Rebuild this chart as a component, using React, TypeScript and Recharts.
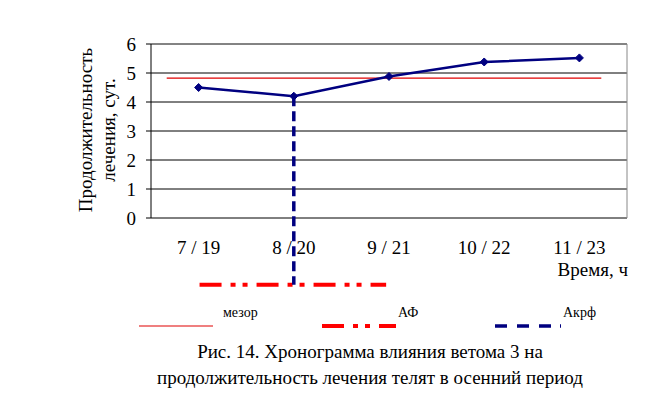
import React from 'react';
import {
  LineChart,
  Line,
  XAxis,
  YAxis,
  CartesianGrid,
  ReferenceLine,
} from 'recharts';

const times = ['7 / 19', '8 / 20', '9 / 21', '10 / 22', '11 / 23'];
const durations = [4.5, 4.2, 4.88, 5.38, 5.52];
const yTicks = [0, 1, 2, 3, 4, 5, 6];
const boundaryTicks = [0, 1, 2, 3, 4, 5];

// mesor level and its span (in category units), acrophase position, AF span
const mesor = 4.82;
const mesorSpan = [0.165, 4.73];
const acroPos = 1.5;
const acroValue = 4.2;
const lowerLevel = -2.3;
const afSpan = [0.51, 2.47];

const data = times.map((t, i) => ({ time: t, pos: i + 0.5, value: durations[i] }));

const FONT = '"Liberation Serif", "Times New Roman", serif';
const NAVY = '#000080';
const RED = '#ff0000';
const AF_DASH = '22 9 5 7 5 9';
const ACRO_DASH = '10 5';

function Diamond(props: any) {
  const { cx, cy } = props;
  if (cx == null || cy == null) return null;
  const r = 4;
  return (
    <polygon
      points={`${cx},${cy - r} ${cx + r},${cy} ${cx},${cy + r} ${cx - r},${cy}`}
      fill={NAVY}
      stroke={NAVY}
    />
  );
}

function LegendLine({ dash, color, width, len = 74 }: { dash?: string; color: string; width: number; len?: number }) {
  return (
    <svg width={len} height={8} style={{ display: 'block' }}>
      <line x1={0} y1={4} x2={len} y2={4} stroke={color} strokeWidth={width} strokeDasharray={dash} />
    </svg>
  );
}

export default function App() {
  return (
    <div
      style={{
        position: 'absolute',
        left: 0,
        top: 0,
        width: 648,
        height: 397,
        background: '#fff',
        fontFamily: FONT,
        color: '#000',
      }}
    >
      <LineChart
        width={648}
        height={397}
        data={data}
        margin={{ top: 44, right: 21, left: 0, bottom: 149 }}
      >
        <CartesianGrid stroke="#000" vertical={false} />
        <XAxis
          xAxisId="num"
          type="number"
          dataKey="pos"
          domain={[0, 5]}
          ticks={boundaryTicks}
          tick={false}
          height={0}
          stroke="#000"
          tickLine={{ stroke: '#000' }}
          tickSize={5}
        />
        <XAxis
          xAxisId="cat"
          dataKey="time"
          scale="band"
          height={30}
          axisLine={false}
          tickLine={false}
          tickSize={0}
          tickMargin={23}
          tick={{ fill: '#000', fontSize: 19, fontFamily: FONT }}
          interval={0}
        />
        <YAxis
          domain={[0, 6]}
          ticks={yTicks}
          width={151}
          stroke="#000"
          tickSize={5}
          tickMargin={10}
          tick={{ fill: '#000', fontSize: 19, fontFamily: FONT }}
          interval={0}
        />
        <ReferenceLine xAxisId="num" y={6} stroke="#888" />
        <ReferenceLine xAxisId="num" x={5} stroke="#888" />
        <ReferenceLine
          xAxisId="num"
          segment={[
            { x: mesorSpan[0], y: mesor },
            { x: mesorSpan[1], y: mesor },
          ]}
          stroke="#e00000"
          strokeWidth={1.2}
          ifOverflow="visible"
        />
        <ReferenceLine
          xAxisId="num"
          segment={[
            { x: afSpan[0], y: lowerLevel },
            { x: afSpan[1], y: lowerLevel },
          ]}
          stroke={RED}
          strokeWidth={4}
          strokeDasharray={AF_DASH}
          ifOverflow="visible"
        />
        <ReferenceLine
          xAxisId="num"
          segment={[
            { x: acroPos, y: acroValue },
            { x: acroPos, y: lowerLevel },
          ]}
          stroke={NAVY}
          strokeWidth={3.5}
          strokeDasharray={ACRO_DASH}
          ifOverflow="visible"
        />
        <Line
          xAxisId="num"
          type="linear"
          dataKey="value"
          stroke={NAVY}
          strokeWidth={2.5}
          dot={<Diamond />}
          activeDot={false}
          isAnimationActive={false}
        />
      </LineChart>

      {/* y-axis title */}
      <div
        style={{
          position: 'absolute',
          left: 97,
          top: 130,
          transform: 'translate(-50%, -50%) rotate(-90deg)',
          fontSize: 19,
          lineHeight: '23px',
          textAlign: 'center',
          whiteSpace: 'nowrap',
        }}
      >
        Продолжительность
        <br />
        лечения, сут.
      </div>

      <div style={{ position: 'absolute', right: 20, top: 259, fontSize: 19, whiteSpace: 'nowrap' }}>
        Время, ч
      </div>

      {/* legend */}
      <div style={{ position: 'absolute', left: 139, top: 322 }}>
        <LegendLine color="#e00000" width={1.2} />
      </div>
      <div style={{ position: 'absolute', left: 223, top: 305, fontSize: 14 }}>мезор</div>
      <div style={{ position: 'absolute', left: 322, top: 322 }}>
        <LegendLine color={RED} width={4} dash={AF_DASH} />
      </div>
      <div style={{ position: 'absolute', left: 398, top: 305, fontSize: 14 }}>АФ</div>
      <div style={{ position: 'absolute', left: 495, top: 322 }}>
        <LegendLine color={NAVY} width={3.5} dash="12 10 12 10 12 9 3 10" len={66} />
      </div>
      <div style={{ position: 'absolute', left: 563, top: 305, fontSize: 14 }}>Акрф</div>

      {/* caption */}
      <div
        style={{
          position: 'absolute',
          left: 120,
          width: 500,
          top: 339,
          fontSize: 19,
          lineHeight: '26px',
          textAlign: 'center',
          whiteSpace: 'nowrap',
        }}
      >
        Рис. 14. Хронограмма влияния ветома 3 на
        <br />
        продолжительность лечения телят в осенний период
      </div>
    </div>
  );
}
